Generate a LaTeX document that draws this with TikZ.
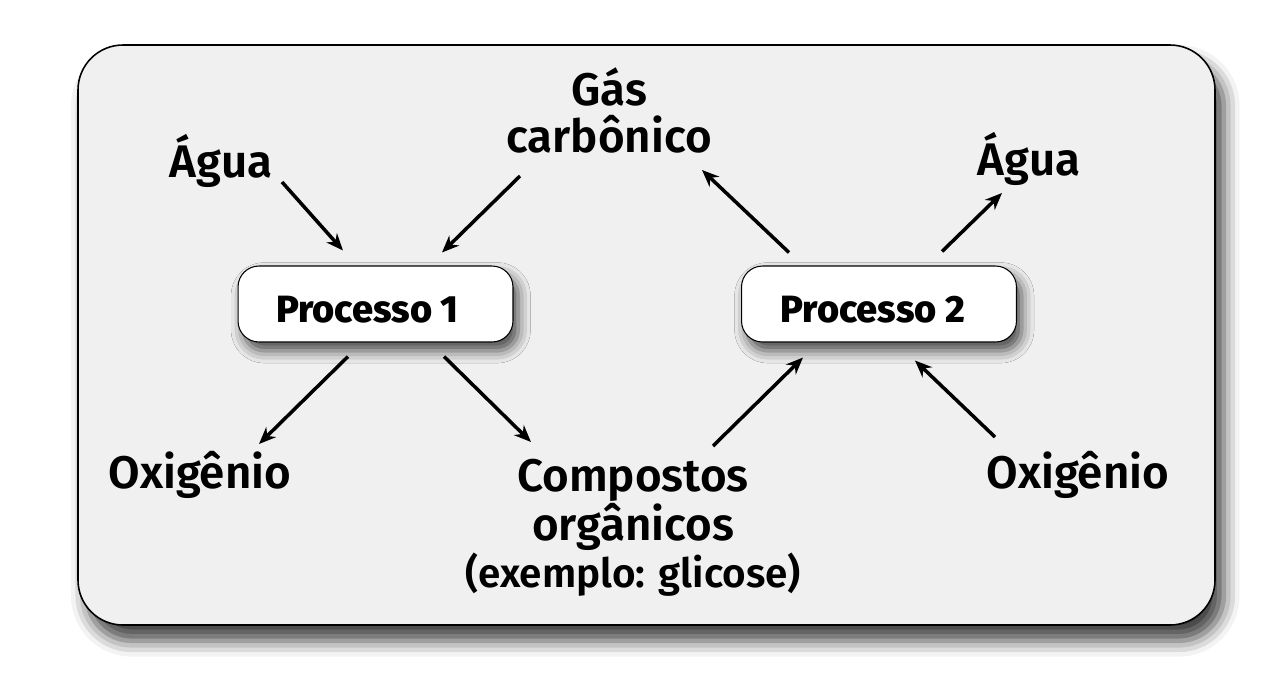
\documentclass[tikz,border=0pt]{standalone}
\usepackage{fontspec}
\setmainfont{Fira Sans}[UprightFont=* SemiBold, BoldFont=* ExtraBold]
\usetikzlibrary{arrows.meta,shadows.blur,calc}
\definecolor{fundo}{HTML}{F0F0F0}

\begin{document}
\begin{tikzpicture}[x=0.02cm,y=-0.02cm,
	termo/.style={font=\fontsize{26}{26.7}\selectfont, align=center, inner sep=0pt, anchor=base},
	processo/.style={draw, line width=0.6pt, fill=white, rounded corners=0.42cm, minimum width=5.5cm, minimum height=1.52cm, text height=20.5pt, text depth=0pt, font=\bfseries\fontsize{21.6}{24}\selectfont, blur shadow={shadow xshift=3pt, shadow yshift=-5pt, shadow blur radius=7pt, shadow opacity=70}},
	seta/.style={line width=2pt, -{Stealth[length=0.34cm,width=0.28cm]}}]
	\useasboundingbox (0,0) rectangle (1274,674);
	\draw[fill=fundo, rounded corners=0.9cm, line width=0.9pt, blur shadow={shadow xshift=5pt, shadow yshift=-9pt, shadow blur radius=9pt, shadow opacity=75}] (78,45) rectangle (1215,625);

	\node[processo] (p1) at (375.5,304) {\kern-0.32cm Processo 1};
	\node[processo] (p2) at (879,304) {\kern-0.24cm Processo 2};

	\node[termo] (agua1) at (221,177) {Água};
	\node[termo] (gas) at (609,152) {Gás\\carbônico};
	\node[termo] (agua2) at (1029,175) {Água};
	\node[termo] (oxi1) at (200,488) {Oxigênio};
	\node[termo] (oxi2) at (1078,488) {Oxigênio};
	\node[termo] (comp) at (633,587) {Compostos\\orgânicos\\{\fontsize{23}{26.7}\selectfont (exemplo: glicose)}};

	\coordinate (agua1-s) at (282,182);
	\coordinate (gas-s) at (520,176);
	\coordinate (gas-e) at (702,170);
	\coordinate (agua2-e) at (1002,193);
	\coordinate (oxi1-e) at (259,444);
	\coordinate (comp-e) at (531,442);
	\coordinate (comp-s) at (713,446);
	\coordinate (oxi2-s) at (995,437);

	\draw[seta] (agua1-s) -- ($(p1.north)+(-32.5,-15)$);
	\draw[seta] (gas-s) -- ($(p1.north)+(66.5,-13)$);
	\draw[seta] ($(p2.north)+(-90,-13)$) -- (gas-e);
	\draw[seta] ($(p2.north)+(63,-14)$) -- (agua2-e);
	\draw[seta] ($(p1.south)+(-27.5,14)$) -- (oxi1-e);
	\draw[seta] ($(p1.south)+(68.5,14)$) -- (comp-e);
	\draw[seta] (comp-s) -- ($(p2.south)+(-76,15)$);
	\draw[seta] (oxi2-s) -- ($(p2.south)+(36,18)$);
\end{tikzpicture}
\end{document}
